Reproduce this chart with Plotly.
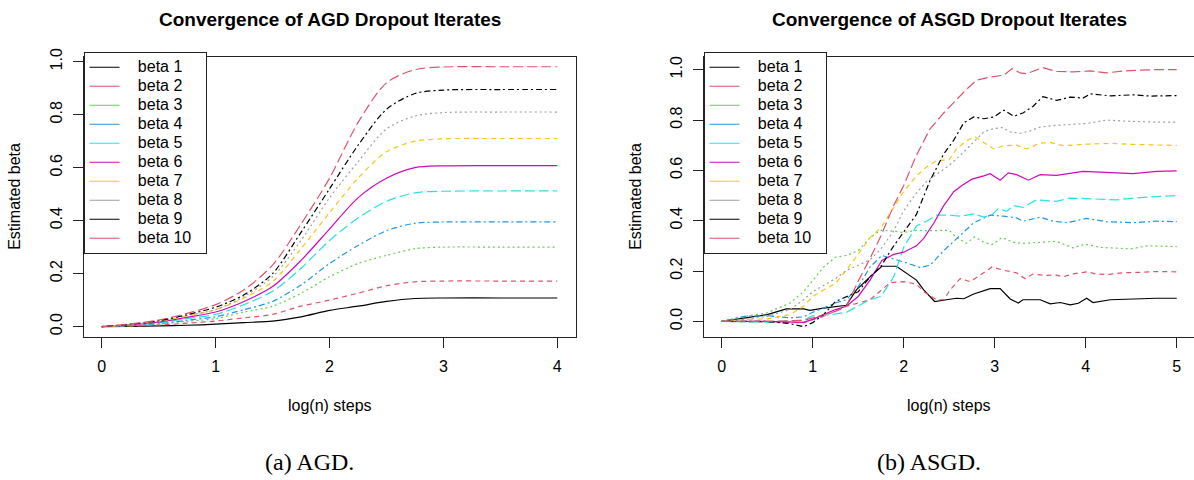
import plotly.graph_objects as go

# ---------------- data ----------------
NAMES = ["beta 1", "beta 2", "beta 3", "beta 4", "beta 5",
         "beta 6", "beta 7", "beta 8", "beta 9", "beta 10"]
COLORS = ["#000000", "#DF536B", "#61D04F", "#2297E6", "#28E2E5",
          "#CD0BBC", "#F5C710", "#9E9E9E", "#000000", "#DF536B"]
DASHES = ["solid", "5px,4px", "2px,3px", "2px,3px,6px,3px", "10px,4px",
          "solid", "5px,4px", "2px,3px", "2px,3px,6px,3px", "10px,4px"]

# Left panel (AGD): common x grid
AGD_X = [0, 0.25, 0.5, 0.75, 1.0, 1.25, 1.5, 1.75, 2.0, 2.25, 2.5, 2.75, 3.0, 3.5, 4.0]
AGD_B1 = [0, 0.001, 0.003, 0.005, 0.009, 0.015, 0.021, 0.037, 0.061, 0.077, 0.095, 0.106, 0.108, 0.108, 0.108]
AGD_B2 = [0, 0.002, 0.006, 0.013, 0.021, 0.033, 0.046, 0.077, 0.100, 0.126, 0.154, 0.169, 0.172, 0.172, 0.172]
AGD_B3 = [0, 0.003, 0.009, 0.020, 0.030, 0.055, 0.077, 0.126, 0.188, 0.238, 0.269, 0.294, 0.300, 0.300, 0.300]
AGD_B4 = [0, 0.004, 0.011, 0.024, 0.037, 0.064, 0.095, 0.157, 0.238, 0.306, 0.362, 0.390, 0.395, 0.395, 0.395]
AGD_B5 = [0, 0.005, 0.014, 0.030, 0.046, 0.083, 0.133, 0.220, 0.325, 0.410, 0.473, 0.505, 0.511, 0.512, 0.512]
AGD_B6 = [0, 0.006, 0.017, 0.035, 0.055, 0.095, 0.151, 0.250, 0.368, 0.486, 0.560, 0.600, 0.607, 0.608, 0.608]
AGD_B7 = [0, 0.007, 0.020, 0.040, 0.064, 0.108, 0.170, 0.294, 0.430, 0.560, 0.660, 0.700, 0.709, 0.710, 0.710]
AGD_B8 = [0, 0.008, 0.021, 0.042, 0.064, 0.114, 0.188, 0.325, 0.486, 0.622, 0.746, 0.795, 0.808, 0.810, 0.810]
AGD_B9 = [0, 0.009, 0.022, 0.045, 0.073, 0.120, 0.200, 0.356, 0.520, 0.684, 0.820, 0.880, 0.893, 0.895, 0.895]
AGD_B10 = [0, 0.010, 0.025, 0.050, 0.083, 0.139, 0.232, 0.387, 0.560, 0.770, 0.920, 0.970, 0.980, 0.981, 0.981]
AGD_Y = [AGD_B1, AGD_B2, AGD_B3, AGD_B4, AGD_B5, AGD_B6, AGD_B7, AGD_B8, AGD_B9, AGD_B10]

# Right panel (ASGD): each series read at its own x positions
ASGD_X1 = [0, 0.25, 0.5, 0.71, 0.9, 0.97, 1.12, 1.37, 1.48, 1.63, 1.76, 1.92, 2.03, 2.14, 2.22, 2.34, 2.47, 2.58, 2.66, 2.77, 2.95, 3.06, 3.17, 3.26, 3.31, 3.5, 3.61, 3.72, 3.83, 3.92, 4.01, 4.08, 4.27, 4.52, 4.78, 5.0]
ASGD_Y1 = [0, 0.014, 0.027, 0.05, 0.05, 0.044, 0.053, 0.064, 0.125, 0.177, 0.219, 0.219, 0.19, 0.164, 0.125, 0.079, 0.086, 0.092, 0.09, 0.109, 0.13, 0.13, 0.089, 0.073, 0.086, 0.086, 0.07, 0.075, 0.066, 0.072, 0.092, 0.075, 0.086, 0.09, 0.092, 0.092]
ASGD_X2 = [0, 0.5, 0.9, 1.12, 1.37, 1.63, 1.85, 2.0, 2.14, 2.22, 2.36, 2.44, 2.51, 2.62, 2.73, 2.84, 2.97, 3.1, 3.24, 3.33, 3.42, 3.55, 3.68, 3.75, 3.88, 4.01, 4.12, 4.23, 4.41, 4.6, 4.78, 5.0]
ASGD_Y2 = [0, -0.002, -0.005, 0.02, 0.06, 0.086, 0.154, 0.158, 0.148, 0.118, 0.086, 0.086, 0.125, 0.17, 0.158, 0.184, 0.216, 0.203, 0.193, 0.17, 0.188, 0.183, 0.184, 0.177, 0.19, 0.197, 0.188, 0.186, 0.193, 0.195, 0.198, 0.197]
ASGD_X3 = [0, 0.25, 0.5, 0.75, 0.9, 1.0, 1.12, 1.25, 1.37, 1.5, 1.63, 1.75, 1.85, 2.0, 2.14, 2.25, 2.36, 2.5, 2.58, 2.69, 2.78, 2.88, 2.97, 3.08, 3.21, 3.31, 3.5, 3.68, 3.86, 3.99, 4.16, 4.49, 4.67, 5.0]
ASGD_Y3 = [0, 0.02, 0.034, 0.073, 0.118, 0.164, 0.216, 0.255, 0.262, 0.281, 0.333, 0.362, 0.36, 0.353, 0.362, 0.36, 0.362, 0.362, 0.333, 0.31, 0.336, 0.314, 0.305, 0.333, 0.314, 0.31, 0.314, 0.318, 0.292, 0.307, 0.294, 0.288, 0.30, 0.297]
ASGD_X4 = [0, 0.25, 0.5, 0.75, 0.9, 1.0, 1.25, 1.37, 1.5, 1.63, 1.76, 1.89, 2.0, 2.18, 2.29, 2.44, 2.58, 2.77, 2.95, 3.1, 3.24, 3.31, 3.5, 3.64, 3.79, 4.01, 4.23, 4.52, 4.78, 5.0]
ASGD_Y4 = [0, 0.02, 0.023, 0.014, 0.018, 0.036, 0.073, 0.086, 0.138, 0.216, 0.262, 0.249, 0.236, 0.214, 0.223, 0.281, 0.327, 0.392, 0.422, 0.418, 0.411, 0.398, 0.414, 0.398, 0.392, 0.409, 0.396, 0.392, 0.398, 0.396]
ASGD_X5 = [0, 0.5, 0.9, 1.0, 1.12, 1.37, 1.63, 1.75, 1.89, 2.0, 2.14, 2.25, 2.36, 2.5, 2.62, 2.77, 2.88, 2.97, 3.04, 3.13, 3.21, 3.31, 3.46, 3.68, 3.83, 4.05, 4.34, 4.6, 5.0]
ASGD_Y5 = [0, -0.003, 0.005, 0.023, 0.023, 0.036, 0.086, 0.099, 0.177, 0.294, 0.379, 0.398, 0.422, 0.422, 0.418, 0.427, 0.414, 0.424, 0.448, 0.437, 0.46, 0.453, 0.483, 0.477, 0.49, 0.487, 0.483, 0.492, 0.50]
ASGD_X6 = [0, 0.5, 0.9, 1.0, 1.25, 1.37, 1.5, 1.63, 1.76, 1.89, 2.0, 2.14, 2.22, 2.33, 2.44, 2.55, 2.64, 2.75, 2.88, 2.95, 3.06, 3.15, 3.24, 3.37, 3.5, 3.68, 3.97, 4.23, 4.52, 4.78, 5.0]
ASGD_Y6 = [0, 0, -0.004, 0.008, 0.047, 0.06, 0.099, 0.164, 0.242, 0.266, 0.275, 0.30, 0.33, 0.39, 0.46, 0.515, 0.54, 0.565, 0.578, 0.587, 0.561, 0.59, 0.583, 0.561, 0.583, 0.58, 0.596, 0.591, 0.587, 0.596, 0.598]
ASGD_X7 = [0, 0.25, 0.5, 0.75, 0.9, 1.0, 1.12, 1.25, 1.37, 1.5, 1.63, 1.75, 1.89, 2.0, 2.14, 2.25, 2.36, 2.5, 2.58, 2.69, 2.78, 2.88, 2.99, 3.1, 3.24, 3.35, 3.5, 3.61, 3.75, 4.01, 4.27, 4.52, 4.78, 5.0]
ASGD_Y7 = [0, 0.008, 0.01, 0.027, 0.06, 0.099, 0.125, 0.151, 0.203, 0.268, 0.333, 0.372, 0.45, 0.516, 0.578, 0.613, 0.639, 0.642, 0.685, 0.717, 0.734, 0.711, 0.685, 0.698, 0.70, 0.685, 0.708, 0.711, 0.698, 0.704, 0.707, 0.703, 0.702, 0.699]
ASGD_X8 = [0, 0.25, 0.5, 0.75, 0.9, 1.0, 1.25, 1.37, 1.5, 1.63, 1.75, 1.89, 2.0, 2.14, 2.25, 2.36, 2.5, 2.62, 2.77, 2.88, 2.99, 3.08, 3.17, 3.28, 3.39, 3.5, 3.68, 4.01, 4.23, 4.41, 4.74, 5.0]
ASGD_Y8 = [0, 0.008, 0.02, 0.047, 0.086, 0.118, 0.17, 0.203, 0.223, 0.245, 0.288, 0.36, 0.44, 0.51, 0.555, 0.585, 0.62, 0.659, 0.715, 0.753, 0.766, 0.77, 0.753, 0.747, 0.757, 0.772, 0.779, 0.786, 0.80, 0.796, 0.792, 0.792]
ASGD_X9 = [0, 0.5, 0.75, 0.9, 1.0, 1.12, 1.25, 1.37, 1.5, 1.63, 1.75, 1.89, 2.0, 2.14, 2.29, 2.44, 2.55, 2.66, 2.77, 2.88, 2.99, 3.1, 3.21, 3.31, 3.42, 3.53, 3.68, 3.83, 3.97, 4.05, 4.27, 4.52, 4.71, 5.0]
ASGD_Y9 = [0, 0, -0.009, -0.021, -0.005, 0.027, 0.079, 0.099, 0.118, 0.177, 0.219, 0.30, 0.355, 0.425, 0.56, 0.665, 0.72, 0.789, 0.812, 0.805, 0.812, 0.839, 0.815, 0.828, 0.854, 0.893, 0.878, 0.891, 0.887, 0.904, 0.896, 0.90, 0.895, 0.897]
ASGD_X10 = [0, 0.5, 0.9, 1.0, 1.25, 1.37, 1.5, 1.63, 1.75, 1.89, 2.0, 2.14, 2.29, 2.44, 2.58, 2.69, 2.8, 2.95, 3.1, 3.19, 3.28, 3.35, 3.53, 3.68, 3.86, 4.05, 4.23, 4.41, 4.74, 5.0]
ASGD_Y10 = [0, 0, 0.004, 0.014, 0.04, 0.06, 0.16, 0.25, 0.34, 0.46, 0.54, 0.66, 0.765, 0.828, 0.88, 0.922, 0.958, 0.971, 0.978, 1.004, 0.987, 0.984, 1.008, 0.993, 0.991, 0.995, 0.987, 0.995, 1.0, 1.0]
ASGD_XS = [ASGD_X1, ASGD_X2, ASGD_X3, ASGD_X4, ASGD_X5, ASGD_X6, ASGD_X7, ASGD_X8, ASGD_X9, ASGD_X10]
ASGD_YS = [ASGD_Y1, ASGD_Y2, ASGD_Y3, ASGD_Y4, ASGD_Y5, ASGD_Y6, ASGD_Y7, ASGD_Y8, ASGD_Y9, ASGD_Y10]

LEFT_XTICKS = [0, 1, 2, 3, 4]
RIGHT_XTICKS = [0, 1, 2, 3, 4, 5]
YTICKS = [0.0, 0.2, 0.4, 0.6, 0.8, 1.0]
YTICK_TEXT = ["0.0", "0.2", "0.4", "0.6", "0.8", "1.0"]

# ---------------- figure ----------------
W, H = 1194, 480
FONT = "Liberation Sans, Arial, Helvetica, sans-serif"
SERIF = "Liberation Serif, Times New Roman, serif"
AX = "#222222"

fig = go.Figure()

def legend_name(n):
    return '<span style="font-size:16px">\u00a0\u00a0\u00a0' + n + '\u00a0\u00a0</span>'

for i in range(10):
    fig.add_trace(go.Scatter(x=AGD_X, y=AGD_Y[i], mode="lines", xaxis="x", yaxis="y",
                             line=dict(color=COLORS[i], width=1.2, dash=DASHES[i],
                                       shape="spline", smoothing=0.8),
                             showlegend=False, hoverinfo="skip"))
for i in range(10):
    fig.add_trace(go.Scatter(x=ASGD_XS[i], y=ASGD_YS[i], mode="lines", xaxis="x2", yaxis="y2",
                             line=dict(color=COLORS[i], width=1.2, dash=DASHES[i]),
                             showlegend=False, hoverinfo="skip"))
# legend entries (solid samples, as in the R legend)
for i in range(10):
    fig.add_trace(go.Scatter(x=[None], y=[None], mode="lines", xaxis="x", yaxis="y",
                             line=dict(color=COLORS[i], width=1.2),
                             name=legend_name(NAMES[i]), legend="legend"))
for i in range(10):
    fig.add_trace(go.Scatter(x=[None], y=[None], mode="lines", xaxis="x2", yaxis="y2",
                             line=dict(color=COLORS[i], width=1.2),
                             name=legend_name(NAMES[i]), legend="legend2"))

ydom = [(480 - 334.5) / H, (480 - 49.5) / H]
LEG_Y = (480 - 44.5) / H
common_axis = dict(showgrid=False, zeroline=False, showline=True, linecolor=AX, linewidth=1,
                   ticks="outside", ticklen=10, tickcolor=AX, tickwidth=1,
                   tickfont=dict(family=FONT, size=16, color="black"))

fig.update_layout(
    width=W, height=H, autosize=False,
    margin=dict(l=0, r=0, t=0, b=0),
    paper_bgcolor="white", plot_bgcolor="white",
    font=dict(family=FONT, size=16, color="black"),
    xaxis=dict(domain=[83.5 / W, 575.5 / W], range=[-0.16, 4.16], anchor="y",
               tickvals=LEFT_XTICKS, mirror=True, ticklabelstandoff=5, **common_axis),
    yaxis=dict(domain=ydom, range=[-0.039, 1.019], anchor="x",
               tickvals=YTICKS, ticktext=YTICK_TEXT, tickangle=-90, mirror=True,
               ticklabelstandoff=4, **common_axis),
    xaxis2=dict(domain=[703.5 / W, 1.0], range=[-0.2, 5.19], anchor="y2",
                tickvals=RIGHT_XTICKS, mirror=True, ticklabelstandoff=5, **common_axis),
    yaxis2=dict(domain=ydom, range=[-0.0617, 1.0516], anchor="x2",
                tickvals=YTICKS, ticktext=YTICK_TEXT, tickangle=-90, mirror=False,
                ticklabelstandoff=4, **common_axis),
    legend=dict(x=83.5 / W, y=LEG_Y, xanchor="left", yanchor="top",
                bgcolor="white", bordercolor=AX, borderwidth=1,
                font=dict(family=FONT, size=11, color="black"), tracegroupgap=0),
    legend2=dict(x=703.5 / W, y=LEG_Y, xanchor="left", yanchor="top",
                 bgcolor="white", bordercolor=AX, borderwidth=1,
                 font=dict(family=FONT, size=11, color="black"), tracegroupgap=0),
)

def ann(text, xpx, ypx, size, family=FONT, angle=0):
    fig.add_annotation(text=text, x=xpx / W, y=(H - ypx) / H, xref="paper", yref="paper",
                       xanchor="center", yanchor="middle", showarrow=False, textangle=angle,
                       font=dict(family=family, size=size, color="black"))

ann("<b>Convergence of AGD Dropout Iterates</b>", 329.5, 12, 19)
ann("<b>Convergence of ASGD Dropout Iterates</b>", 949, 12, 19)
ann("log(n) steps", 330, 404, 16)
ann("log(n) steps", 949, 404, 16)
ann("Estimated beta", 15, 192, 16, angle=-90)
ann("Estimated beta", 636, 192, 16, angle=-90)
ann("(a) AGD.", 309, 462, 24, family=SERIF)
ann("(b) ASGD.", 929, 462, 24, family=SERIF)

POST = ("document.documentElement.style.margin='0';document.body.style.margin='0';"
        "document.body.style.overflow='hidden';"
        "var d=document.getElementById('{plot_id}');"
        "d.style.position='absolute';d.style.left='0px';d.style.top='0px';")
fig.write_html("out.html", post_script=POST, config={"displayModeBar": False})
